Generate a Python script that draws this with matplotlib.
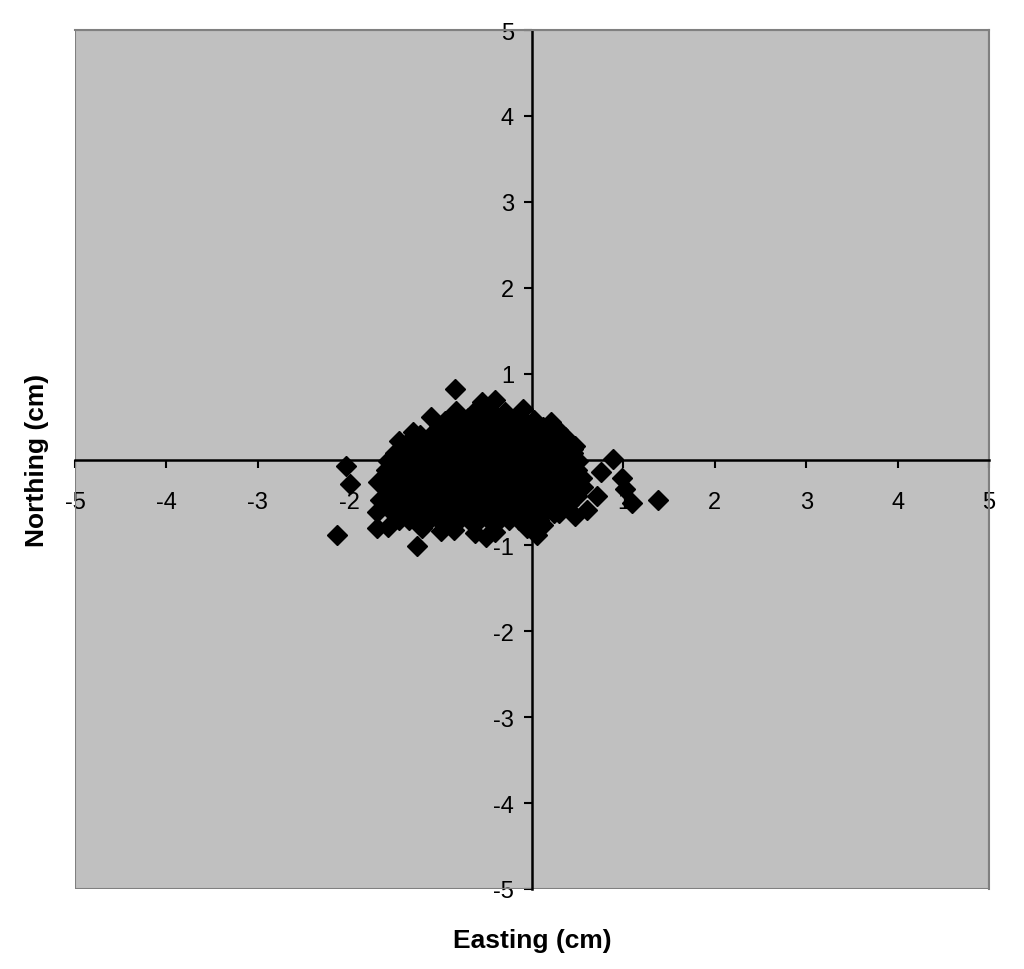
import matplotlib
matplotlib.use("Agg")
import matplotlib.pyplot as plt
from matplotlib.patches import Rectangle

plt.rcParams["font.family"] = ["Liberation Sans", "DejaVu Sans"]
plt.rcParams["axes.unicode_minus"] = False

# dense core of the cloud, one list of eastings per northing row (cm)
row_north = [0.48, 0.38, 0.28, 0.18, 0.08, -0.02, -0.12, -0.22, -0.32, -0.42, -0.52, -0.62, -0.71]
row_east = [
    [-0.70, -0.58, -0.47, -0.36, -0.24, -0.12],
    [-1.02, -0.91, -0.80, -0.69, -0.58, -0.47, -0.36, -0.25, -0.14, -0.03, 0.08],
    [-1.22, -1.11, -1.00, -0.89, -0.78, -0.67, -0.56, -0.45, -0.34, -0.23, -0.12, -0.01, 0.10, 0.21],
    [-1.38, -1.27, -1.16, -1.05, -0.94, -0.83, -0.72, -0.61, -0.50, -0.39, -0.28, -0.17, -0.06, 0.05, 0.16, 0.27, 0.36],
    [-1.50, -1.39, -1.28, -1.17, -1.06, -0.95, -0.84, -0.73, -0.62, -0.51, -0.40, -0.29, -0.18, -0.07, 0.04, 0.15, 0.26, 0.37, 0.45],
    [-1.57, -1.46, -1.35, -1.24, -1.13, -1.02, -0.91, -0.80, -0.69, -0.58, -0.47, -0.36, -0.25, -0.14, -0.03, 0.08, 0.19, 0.30, 0.41, 0.50],
    [-1.60, -1.49, -1.38, -1.27, -1.16, -1.05, -0.94, -0.83, -0.72, -0.61, -0.50, -0.39, -0.28, -0.17, -0.06, 0.05, 0.16, 0.27, 0.38, 0.49],
    [-1.61, -1.50, -1.39, -1.28, -1.17, -1.06, -0.95, -0.84, -0.73, -0.62, -0.51, -0.40, -0.29, -0.18, -0.07, 0.04, 0.15, 0.26, 0.37, 0.47, 0.55],
    [-1.60, -1.49, -1.38, -1.27, -1.16, -1.05, -0.94, -0.83, -0.72, -0.61, -0.50, -0.39, -0.28, -0.17, -0.06, 0.05, 0.16, 0.27, 0.38, 0.48, 0.56],
    [-1.58, -1.47, -1.36, -1.25, -1.14, -1.03, -0.92, -0.81, -0.70, -0.59, -0.48, -0.37, -0.26, -0.15, -0.04, 0.07, 0.18, 0.29, 0.40, 0.49],
    [-1.55, -1.44, -1.33, -1.22, -1.11, -1.00, -0.89, -0.78, -0.67, -0.56, -0.45, -0.34, -0.23, -0.12, -0.01, 0.10, 0.21, 0.32, 0.40],
    [-1.52, -1.41, -1.30, -1.19, -1.08, -0.97, -0.86, -0.75, -0.64, -0.53, -0.42, -0.31, -0.20, -0.09, 0.02, 0.13, 0.24],
    [-1.46, -1.35, -1.24, -1.13, -1.02, -0.91, -0.80, -0.69, -0.58, -0.47, -0.36, -0.25, -0.14, -0.03, 0.08],
]

# ragged edge and scattered outliers
edge_east = [-0.95, -0.62, -0.30, -0.48, 0.02, 0.12, -1.30, -1.45,
             -1.58, -1.20, -0.85, -0.40, -0.05, 0.12, -1.00, -0.62,
             0.30, 0.45, 0.36,
             -0.84, -0.40, -0.55, -0.10, -0.83, -1.11, 0.21, 0.29, 0.47, 0.89,
             -2.04, -1.99, 0.76, 0.98, 1.02, 1.09, 1.38, 0.71, 0.60, 0.47,
             -2.13, -1.68, -1.66, -1.70, -1.70, -1.26, 0.05, -0.50]
edge_north = [0.45, 0.56, 0.55, 0.60, 0.46, 0.38, 0.32, 0.22,
              -0.78, -0.80, -0.82, -0.84, -0.80, -0.76, -0.83, -0.86,
              -0.62, 0.12, 0.26,
              0.82, 0.69, 0.67, 0.59, 0.57, 0.49, 0.44, 0.34, 0.16, 0.01,
              -0.08, -0.28, -0.14, -0.22, -0.34, -0.51, -0.47, -0.43, -0.59, -0.66,
              -0.88, -0.26, -0.47, -0.61, -0.80, -1.01, -0.88, -0.90]

ticks = [-5, -4, -3, -2, -1, 0, 1, 2, 3, 4, 5]

east = [x for xs, y in zip(row_east, row_north) for x in xs] + edge_east
north = [y for xs, y in zip(row_east, row_north) for x in xs] + edge_north

fig = plt.figure(figsize=(10.24, 9.70), dpi=100)
ax = fig.add_axes([0.0732, 0.0825, 0.8926, 0.8855])
ax.set_facecolor("#c0c0c0")

ax.plot(east, north, linestyle="none", marker="D", markersize=10,
        color="black", zorder=3, clip_on=False)

ax.set_xlim(-5, 5)
ax.set_ylim(-5, 5)
ax.set_xticks(ticks)
ax.set_yticks(ticks)

# axes cross at the origin, grey frame round the plot area
for side in ["left", "bottom"]:
    ax.spines[side].set_position("zero")
    ax.spines[side].set_color("black")
    ax.spines[side].set_linewidth(1.8)
for side in ["top", "right"]:
    ax.spines[side].set_color("#808080")
    ax.spines[side].set_linewidth(1.5)
ax.add_patch(Rectangle((0, 0), 1, 1, transform=ax.transAxes, fill=False,
                       edgecolor="#808080", linewidth=1.5, zorder=2))

ax.tick_params(axis="x", direction="out", length=6, width=1.5, pad=17,
               labelsize=17)
ax.tick_params(axis="y", direction="out", length=6, width=1.5, pad=7,
               labelsize=17)

fig.text(0.5195, 0.030, "Easting (cm)", ha="center", va="center",
         fontsize=19, fontweight="bold")
fig.text(0.036, 0.525, "Northing (cm)", ha="center", va="center",
         rotation=90, fontsize=19, fontweight="bold")

fig.savefig("out.png", dpi=100)
